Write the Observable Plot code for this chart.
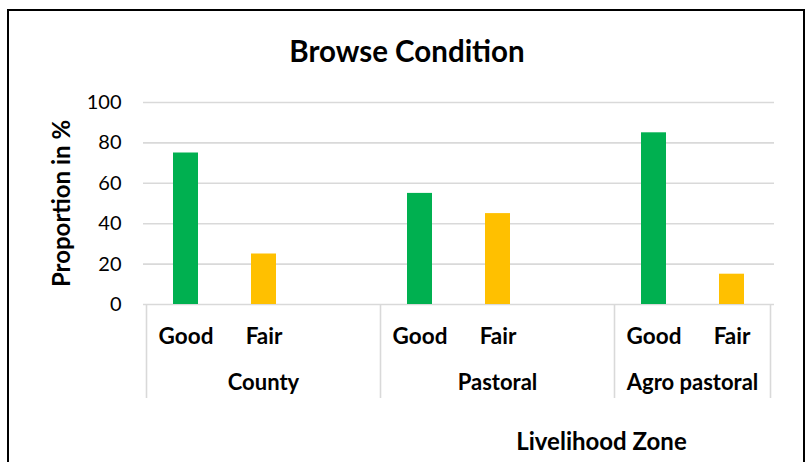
<!DOCTYPE html>
<html><head><meta charset="utf-8">
<script src="https://cdn.jsdelivr.net/npm/d3@7"></script>
<script src="https://cdn.jsdelivr.net/npm/@observablehq/plot@0.6"></script>
<style>
body{margin:0;width:805px;height:462px;overflow:hidden;background:#fff;position:relative;font-family:Lato,"Open Sans",sans-serif}
#chart{position:absolute;left:0;top:0}
#frame{position:absolute;left:7px;top:9px;width:794px;height:480px;border:2px solid #000;pointer-events:none}
</style></head><body><div id="chart"></div><div id="frame"></div>
<script>
const zones = ["County", "Pastoral", "Agro pastoral"];
const conditions = ["Good", "Fair"];
const goodValues = [75, 55, 85];
const fairValues = [25, 45, 15];
const yTicks = [0, 20, 40, 60, 80, 100];
const titleText = "Browse Condition";
const yLabel = "Proportion in %";
const xLabel = "Livelihood Zone";
const colors = ["#00B050", "#FFC000"];

// Excel-style multi-level category rows (a spacer row after each zone but the last)
const slots = [];
zones.forEach((z, zi) => {
  conditions.forEach((c, ci) => slots.push({key: `${zi}-${c}`, zone: z, zi, condition: c, value: ci === 0 ? goodValues[zi] : fairValues[zi]}));
  if (zi < zones.length - 1) slots.push({key: `${zi}-blank`, zone: z, zi, condition: "", value: null});
});
const bars = slots.filter(d => d.condition);

const W = 805, H = 462;
const plot = Plot.plot({
  width: W, height: H,
  marginLeft: 143, marginRight: 31, marginTop: 102, marginBottom: 158,
  style: {fontFamily: "Lato, 'Open Sans', sans-serif", background: "transparent", overflow: "visible", color: "#000"},
  x: {type: "band", domain: slots.map(d => d.key), paddingInner: 0.68, paddingOuter: 0.34, axis: null},
  y: {domain: [0, 100], axis: null},
  color: {domain: conditions, range: colors},
  marks: [
    Plot.gridY(yTicks, {stroke: "#d9d9d9", strokeOpacity: 1, strokeWidth: 1.6}),
    Plot.axisY(yTicks, {tickSize: 0, tickPadding: 22, fontSize: 20, label: null, fill: "#000"}),
    Plot.barY(bars, {x: "key", y: "value", fill: "condition"}),
    Plot.text(bars, {x: "key", text: "condition", frameAnchor: "bottom", lineAnchor: "middle", dy: 32, fontWeight: "bold", fontSize: 22.5, fill: "#000"}),
    Plot.text([titleText], {frameAnchor: "top", lineAnchor: "middle", textAnchor: "middle", dx: -52, dy: -50, fontWeight: "bold", fontSize: 29.5, fill: "#000"}),
    Plot.text([yLabel], {frameAnchor: "left", textAnchor: "middle", lineAnchor: "middle", rotate: -90, dx: -81, fontWeight: "bold", fontSize: 24, fill: "#000"})
  ]
});
document.getElementById("chart").appendChild(plot);

// Zone dividers and zone labels, positioned from the plot's x scale
const xs = plot.scale("x");
const gap = (xs.step - xs.bandwidth) / 2;
const svg = d3.select(plot);
const y0 = plot.scale("y").apply(0);
const g = svg.append("g");
const boundaries = [];
zones.forEach((z, zi) => {
  const ks = slots.filter(d => d.zi === zi).map(d => d.key);
  const left = xs.apply(ks[0]) - gap;
  const right = xs.apply(ks[ks.length - 1]) + xs.bandwidth + gap;
  boundaries.push(left);
  if (zi === zones.length - 1) boundaries.push(right);
  const c0 = xs.apply(ks[0]) + xs.bandwidth / 2;
  const c1 = xs.apply(ks[ks.length - 1]) + xs.bandwidth / 2;
  g.append("text").attr("x", (c0 + c1) / 2).attr("y", y0 + 80).attr("text-anchor", "middle")
    .attr("dominant-baseline", "middle").attr("font-weight", "bold").attr("font-size", 22).text(z);
});
boundaries.forEach(b => g.append("line").attr("x1", b).attr("x2", b).attr("y1", y0).attr("y2", y0 + 94)
  .attr("stroke", "#d9d9d9").attr("stroke-width", 1.6));
const r = xs.range;
g.append("text").attr("x", (r[0] + r[1]) / 2 + 143).attr("y", y0 + 140).attr("text-anchor", "middle")
  .attr("dominant-baseline", "middle").attr("font-weight", "bold").attr("font-size", 24).text(xLabel);
</script></body></html>
